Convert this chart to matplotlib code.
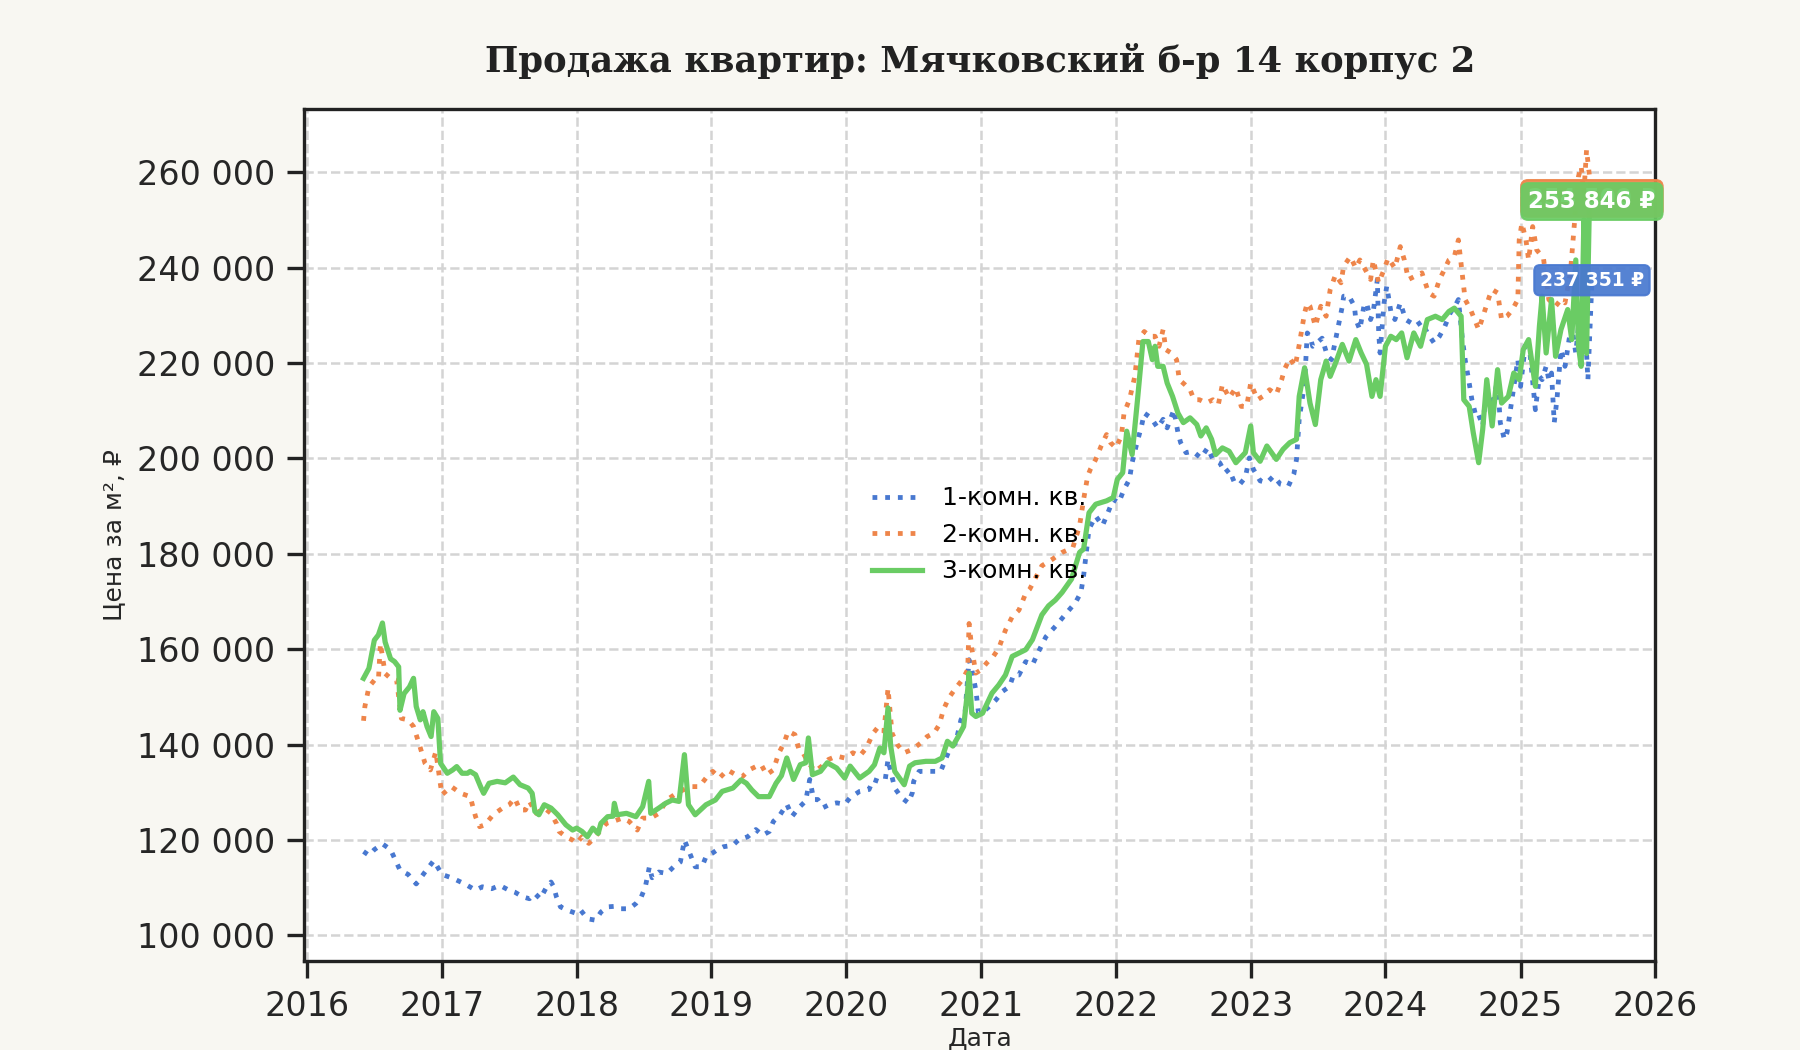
import numpy as np
import pandas as pd
import matplotlib
matplotlib.use("Agg")
import matplotlib.pyplot as plt
import matplotlib.dates as mdates
from matplotlib.ticker import FuncFormatter, MultipleLocator

# ---------------- data (decimal years, prices in thousand RUB per m2) ----------------
t1 = [2016.42, 2016.46, 2016.50, 2016.56, 2016.62, 2016.69, 2016.75, 2016.81, 2016.875, 2016.94,
      2017.00, 2017.08, 2017.17, 2017.25, 2017.30, 2017.37, 2017.43, 2017.49, 2017.54, 2017.60,
      2017.65, 2017.69, 2017.73, 2017.77, 2017.81, 2017.83, 2017.85, 2017.88, 2017.93, 2018.00,
      2018.03, 2018.08, 2018.14, 2018.18, 2018.23, 2018.28, 2018.33, 2018.39, 2018.44, 2018.48,
      2018.51, 2018.54, 2018.56, 2018.61, 2018.67, 2018.72, 2018.77, 2018.80, 2018.83, 2018.88,
      2018.93, 2018.96, 2019.01, 2019.04, 2019.09, 2019.16, 2019.20, 2019.27, 2019.33, 2019.38,
      2019.43, 2019.46, 2019.51, 2019.56, 2019.60, 2019.65, 2019.70, 2019.73, 2019.76, 2019.79,
      2019.83, 2019.88, 2019.93, 2019.99, 2020.03, 2020.10, 2020.17, 2020.20, 2020.24, 2020.29,
      2020.31, 2020.33, 2020.36, 2020.41, 2020.46, 2020.49, 2020.50, 2020.54, 2020.59, 2020.65,
      2020.70, 2020.74, 2020.77, 2020.81, 2020.85, 2020.88, 2020.91, 2020.93, 2020.96, 2020.98,
      2021.02, 2021.06, 2021.11, 2021.16, 2021.21, 2021.24, 2021.28, 2021.33, 2021.38, 2021.42,
      2021.48, 2021.56, 2021.63, 2021.70, 2021.74, 2021.76, 2021.78, 2021.80, 2021.85, 2021.90,
      2021.94, 2021.98, 2022.02, 2022.06, 2022.10, 2022.12, 2022.15, 2022.19, 2022.21, 2022.26,
      2022.31, 2022.35, 2022.38, 2022.43, 2022.46, 2022.48, 2022.52, 2022.57, 2022.63, 2022.68,
      2022.72, 2022.77, 2022.81, 2022.84, 2022.88, 2022.92, 2022.96, 2022.99, 2023.02, 2023.07,
      2023.12, 2023.17, 2023.22, 2023.28, 2023.32, 2023.34, 2023.36, 2023.40, 2023.42, 2023.44,
      2023.46, 2023.49, 2023.53, 2023.57, 2023.60, 2023.63, 2023.65, 2023.68, 2023.69, 2023.73,
      2023.77, 2023.78, 2023.81, 2023.84, 2023.86, 2023.89, 2023.91, 2023.94, 2023.95, 2023.96,
      2023.99, 2024.01, 2024.04, 2024.07, 2024.11, 2024.15, 2024.19, 2024.22, 2024.27, 2024.31,
      2024.36, 2024.40, 2024.44, 2024.48, 2024.52, 2024.54, 2024.57, 2024.59, 2024.62, 2024.64,
      2024.67, 2024.69, 2024.72, 2024.75, 2024.79, 2024.83, 2024.85, 2024.88, 2024.90, 2024.94,
      2024.98, 2025.00, 2025.04, 2025.07, 2025.11, 2025.14, 2025.16, 2025.19, 2025.21, 2025.23,
      2025.25, 2025.27, 2025.30, 2025.33, 2025.36, 2025.38, 2025.41, 2025.43, 2025.46, 2025.48,
      2025.50, 2025.53]
v1 = [117.6, 116.8, 118.0, 119.2, 118.0, 113.7, 112.8, 110.8, 113.3, 115.7,
      112.8, 112.0, 110.8, 109.5, 110.2, 109.8, 110.5, 109.6, 109.1, 108.1,
      107.7, 108.8, 107.7, 109.8, 111.2, 110.2, 108.1, 106.0, 105.3, 104.6,
      105.3, 103.5, 103.2, 104.9, 106.0, 106.1, 105.6, 105.6, 106.7, 108.1,
      110.2, 114.4, 112.1, 113.3, 113.0, 114.4, 115.4, 120.0, 117.9, 114.4,
      114.4, 116.5, 117.3, 117.9, 118.6, 118.9, 120.0, 120.7, 122.2, 121.0,
      121.8, 123.9, 125.3, 127.5, 125.0, 126.8, 128.2, 132.7, 128.5, 128.5,
      126.8, 127.5, 127.8, 127.5, 128.9, 130.2, 130.6, 132.7, 132.3, 132.7,
      136.9, 134.4, 130.9, 128.9, 127.8, 129.9, 132.3, 134.4, 134.4, 134.4,
      134.4, 137.2, 139.3, 140.3, 145.2, 146.6, 157.8, 155.7, 151.5, 146.6,
      147.0, 148.0, 149.4, 151.2, 152.2, 154.6, 154.6, 157.4, 156.7, 159.2,
      162.6, 165.1, 167.5, 169.8, 171.9, 175.4, 180.3, 185.2, 187.9, 185.9,
      188.6, 191.4, 190.7, 193.5, 195.6, 199.1, 202.6, 206.8, 209.5, 208.5,
      206.4, 208.2, 206.4, 210.2, 205.4, 203.3, 201.2, 201.5, 200.1, 202.2,
      199.8, 199.1, 197.0, 197.7, 194.9, 194.6, 196.0, 200.1, 197.7, 195.3,
      194.9, 196.3, 194.6, 194.2, 196.7, 199.8, 208.2, 215.8, 226.3, 225.6,
      223.5, 224.2, 225.2, 221.4, 220.7, 224.9, 227.7, 231.9, 234.0, 234.0,
      231.9, 229.1, 227.0, 231.9, 232.6, 229.1, 230.8, 237.5, 226.3, 222.1,
      232.6, 236.1, 230.8, 229.1, 232.6, 229.1, 228.4, 227.7, 228.7, 226.3,
      224.2, 225.6, 227.7, 230.5, 232.2, 233.3, 224.9, 220.7, 215.8, 212.3,
      208.8, 209.2, 206.8, 215.1, 210.9, 216.5, 207.5, 204.0, 205.4, 213.0,
      220.7, 215.1, 224.9, 222.1, 210.2, 217.2, 216.5, 219.3, 216.5, 217.9,
      207.5, 212.3, 222.8, 219.3, 224.9, 227.7, 222.1, 227.7, 231.9, 227.7,
      216.5, 237.351]

t2 = [2016.42, 2016.43, 2016.46, 2016.50, 2016.53, 2016.545, 2016.58, 2016.62, 2016.665, 2016.70,
      2016.75, 2016.79, 2016.83, 2016.875, 2016.915, 2016.955, 2017.00, 2017.07, 2017.14, 2017.21,
      2017.25, 2017.28, 2017.32, 2017.38, 2017.45, 2017.50, 2017.54, 2017.58, 2017.62, 2017.65,
      2017.70, 2017.76, 2017.81, 2017.85, 2017.87, 2017.92, 2017.97, 2018.00, 2018.04, 2018.09,
      2018.13, 2018.17, 2018.22, 2018.27, 2018.34, 2018.39, 2018.45, 2018.49, 2018.55, 2018.61,
      2018.67, 2018.74, 2018.79, 2018.85, 2018.91, 2018.96, 2019.01, 2019.06, 2019.12, 2019.18,
      2019.23, 2019.28, 2019.33, 2019.37, 2019.41, 2019.46, 2019.50, 2019.54, 2019.57, 2019.62,
      2019.65, 2019.68, 2019.72, 2019.77, 2019.82, 2019.87, 2019.93, 2019.99, 2020.05, 2020.10,
      2020.15, 2020.20, 2020.24, 2020.28, 2020.31, 2020.34, 2020.38, 2020.43, 2020.49, 2020.55,
      2020.60, 2020.65, 2020.69, 2020.72, 2020.76, 2020.81, 2020.86, 2020.90, 2020.91, 2020.93,
      2020.96, 2021.00, 2021.04, 2021.09, 2021.13, 2021.18, 2021.23, 2021.28, 2021.33, 2021.36,
      2021.45, 2021.53, 2021.60, 2021.68, 2021.73, 2021.76, 2021.79, 2021.81, 2021.85, 2021.89,
      2021.93, 2021.96, 2022.00, 2022.04, 2022.06, 2022.10, 2022.14, 2022.17, 2022.21, 2022.25,
      2022.29, 2022.32, 2022.35, 2022.37, 2022.41, 2022.45, 2022.47, 2022.51, 2022.55, 2022.58,
      2022.62, 2022.67, 2022.72, 2022.76, 2022.79, 2022.84, 2022.89, 2022.93, 2022.97, 2023.00,
      2023.05, 2023.09, 2023.14, 2023.19, 2023.23, 2023.25, 2023.29, 2023.33, 2023.36, 2023.40,
      2023.42, 2023.44, 2023.48, 2023.52, 2023.56, 2023.59, 2023.63, 2023.67, 2023.69, 2023.74,
      2023.78, 2023.81, 2023.85, 2023.89, 2023.91, 2023.95, 2023.99, 2024.02, 2024.07, 2024.11,
      2024.14, 2024.17, 2024.22, 2024.27, 2024.32, 2024.36, 2024.40, 2024.43, 2024.47, 2024.51,
      2024.54, 2024.57, 2024.59, 2024.63, 2024.67, 2024.69, 2024.73, 2024.77, 2024.79, 2024.83,
      2024.86, 2024.90, 2024.94, 2024.98, 2024.99, 2025.01, 2025.04, 2025.06, 2025.09, 2025.12,
      2025.17, 2025.21, 2025.26, 2025.30, 2025.33, 2025.37, 2025.40, 2025.43, 2025.45, 2025.47,
      2025.49, 2025.53]
v2 = [145.0, 148.0, 152.1, 153.5, 153.5, 161.2, 154.9, 153.9, 153.5, 145.5,
      145.2, 143.8, 140.3, 136.1, 134.7, 138.5, 129.5, 131.2, 129.8, 129.1,
      124.9, 122.8, 123.2, 125.3, 126.7, 127.4, 128.8, 126.3, 126.3, 128.1,
      125.6, 126.7, 125.6, 123.5, 121.8, 120.7, 120.0, 119.3, 120.7, 119.3,
      120.4, 121.8, 123.5, 123.9, 124.6, 123.9, 122.1, 124.6, 124.6, 125.6,
      128.4, 129.8, 130.5, 131.2, 131.2, 133.0, 134.4, 133.0, 134.7, 133.7,
      133.3, 134.7, 135.4, 135.8, 133.7, 134.7, 138.2, 140.4, 142.8, 142.1,
      139.0, 138.3, 136.2, 134.4, 135.5, 136.9, 137.6, 137.2, 138.3, 137.6,
      139.3, 142.4, 143.8, 142.8, 151.8, 142.4, 140.0, 138.3, 139.0, 140.3,
      141.7, 142.4, 144.2, 147.3, 149.8, 151.8, 153.6, 155.7, 165.4, 160.2,
      155.0, 155.7, 157.1, 158.5, 160.2, 164.0, 166.8, 168.2, 171.7, 172.6,
      177.5, 178.9, 180.3, 181.3, 185.9, 191.4, 196.3, 197.7, 199.8, 202.6,
      205.0, 203.3, 202.2, 204.7, 209.5, 212.3, 217.2, 224.9, 226.6, 225.6,
      225.6, 223.5, 227.0, 222.8, 222.1, 220.7, 216.5, 215.5, 214.4, 212.3,
      212.3, 211.6, 212.3, 211.3, 215.5, 212.7, 214.8, 210.9, 210.9, 215.8,
      212.3, 213.0, 214.4, 213.4, 216.5, 218.6, 221.0, 219.3, 223.8, 230.5,
      232.6, 231.9, 227.7, 231.9, 229.8, 235.4, 238.5, 236.8, 240.3, 242.3,
      239.9, 241.6, 239.6, 237.5, 241.6, 236.8, 239.6, 242.0, 239.9, 244.4,
      241.6, 237.5, 238.2, 238.9, 234.7, 234.0, 237.5, 239.2, 241.6, 242.3,
      245.8, 238.2, 233.3, 231.2, 228.4, 227.0, 230.5, 234.0, 235.4, 234.7,
      229.1, 229.8, 231.2, 233.3, 245.8, 249.3, 245.8, 241.6, 248.6, 243.7,
      242.0, 233.3, 231.9, 233.3, 232.6, 238.9, 249.3, 259.1, 261.2, 255.6,
      264.7, 254.5]

t3 = [2016.42, 2016.46, 2016.50, 2016.53, 2016.56, 2016.58, 2016.62, 2016.65, 2016.68, 2016.69,
      2016.72, 2016.76, 2016.79, 2016.81, 2016.84, 2016.86, 2016.89, 2016.92, 2016.94, 2016.97,
      2016.99, 2017.04, 2017.08, 2017.11, 2017.15, 2017.19, 2017.21, 2017.25, 2017.29, 2017.31,
      2017.35, 2017.41, 2017.47, 2017.53, 2017.58, 2017.64, 2017.67, 2017.69, 2017.72, 2017.76,
      2017.81, 2017.86, 2017.92, 2017.97, 2018.00, 2018.04, 2018.08, 2018.12, 2018.16, 2018.18,
      2018.23, 2018.27, 2018.28, 2018.30, 2018.37, 2018.44, 2018.49, 2018.535, 2018.55, 2018.61,
      2018.66, 2018.71, 2018.76, 2018.80, 2018.83, 2018.88, 2018.96, 2019.03, 2019.08, 2019.16,
      2019.22, 2019.26, 2019.30, 2019.35, 2019.43, 2019.48, 2019.52, 2019.56, 2019.61, 2019.66,
      2019.70, 2019.72, 2019.75, 2019.81, 2019.86, 2019.93, 2019.99, 2020.03, 2020.10, 2020.17,
      2020.21, 2020.25, 2020.28, 2020.31, 2020.33, 2020.36, 2020.43, 2020.47, 2020.51, 2020.59,
      2020.66, 2020.71, 2020.75, 2020.79, 2020.83, 2020.87, 2020.90, 2020.91, 2020.93, 2020.96,
      2021.01, 2021.08, 2021.13, 2021.18, 2021.23, 2021.28, 2021.33, 2021.38, 2021.45, 2021.50,
      2021.55, 2021.60, 2021.67, 2021.73, 2021.76, 2021.80, 2021.85, 2021.93, 2021.98, 2022.01,
      2022.05, 2022.08, 2022.12, 2022.16, 2022.20, 2022.24, 2022.27, 2022.29, 2022.31, 2022.35,
      2022.38, 2022.42, 2022.46, 2022.50, 2022.55, 2022.60, 2022.63, 2022.67, 2022.71, 2022.74,
      2022.79, 2022.84, 2022.89, 2022.96, 2023.00, 2023.02, 2023.07, 2023.12, 2023.19, 2023.24,
      2023.29, 2023.34, 2023.36, 2023.40, 2023.44, 2023.48, 2023.52, 2023.56, 2023.59, 2023.63,
      2023.68, 2023.73, 2023.78, 2023.82, 2023.86, 2023.90, 2023.93, 2023.96, 2024.00, 2024.04,
      2024.08, 2024.12, 2024.16, 2024.21, 2024.26, 2024.31, 2024.37, 2024.42, 2024.47, 2024.51,
      2024.56, 2024.58, 2024.62, 2024.65, 2024.69, 2024.72, 2024.75, 2024.79, 2024.83, 2024.86,
      2024.91, 2024.95, 2024.99, 2025.02, 2025.06, 2025.11, 2025.14, 2025.16, 2025.19, 2025.23,
      2025.26, 2025.30, 2025.35, 2025.38, 2025.41, 2025.43, 2025.45, 2025.47, 2025.49, 2025.51,
      2025.53]
v3 = [153.9, 156.0, 161.9, 163.0, 165.5, 161.5, 158.0, 157.4, 156.3, 147.2,
      150.7, 152.1, 153.9, 148.0, 145.2, 146.9, 143.8, 141.7, 146.9, 145.5,
      136.1, 134.0, 134.7, 135.4, 134.0, 134.0, 134.4, 133.7, 131.0, 129.8,
      131.9, 132.3, 132.0, 133.2, 131.6, 130.9, 129.8, 126.0, 125.3, 127.4,
      126.7, 125.3, 123.2, 122.1, 122.5, 121.8, 120.7, 122.5, 121.4, 123.5,
      124.9, 125.0, 127.7, 125.3, 125.6, 124.9, 127.0, 132.3, 125.6, 126.7,
      127.7, 128.4, 128.1, 137.9, 127.4, 125.3, 127.4, 128.4, 130.2, 130.9,
      132.6, 131.9, 130.5, 129.1, 129.1, 131.9, 133.5, 137.2, 132.7, 135.8,
      136.2, 141.4, 133.7, 134.4, 136.2, 135.1, 133.0, 135.5, 133.0, 134.4,
      135.8, 139.3, 138.3, 147.7, 139.7, 134.4, 131.6, 135.5, 136.2, 136.5,
      136.5, 137.2, 140.7, 139.7, 141.7, 143.8, 151.5, 155.0, 146.6, 145.9,
      146.6, 150.8, 152.5, 154.6, 158.5, 159.2, 159.9, 162.0, 167.2, 169.1,
      170.3, 171.9, 174.7, 180.3, 181.0, 188.6, 190.4, 191.1, 191.8, 195.6,
      197.0, 205.7, 200.8, 212.3, 224.5, 224.5, 220.7, 223.5, 219.3, 219.3,
      215.8, 213.0, 209.5, 207.5, 208.5, 207.1, 204.7, 206.4, 204.0, 200.8,
      202.2, 201.5, 199.1, 201.2, 206.8, 201.2, 199.4, 202.6, 199.8, 201.9,
      203.3, 204.0, 213.0, 219.0, 211.6, 207.1, 216.5, 220.4, 217.2, 220.0,
      223.9, 220.4, 224.9, 222.1, 219.7, 213.0, 216.5, 213.0, 223.5, 225.6,
      224.9, 226.3, 221.1, 226.3, 223.5, 229.1, 229.8, 229.1, 230.8, 231.5,
      229.8, 212.3, 210.9, 205.4, 199.1, 206.1, 216.5, 206.8, 218.6, 211.6,
      213.0, 217.9, 216.5, 222.8, 224.9, 215.1, 227.7, 234.0, 222.1, 233.3,
      221.4, 227.0, 231.2, 224.9, 241.6, 223.5, 219.3, 250.0, 222.0, 252.0,
      253.846]

labels = ["1-комн. кв.", "2-комн. кв.", "3-комн. кв."]
colors = ["#4878d0", "#ee854a", "#6acc64"]
styles = [":", ":", "-"]
title = "Продажа квартир: Мячковский б-р 14 корпус 2"


def to_dates(ts):
    out = []
    for t in ts:
        y = int(t)
        start = pd.Timestamp(year=y, month=1, day=1)
        days = (pd.Timestamp(year=y + 1, month=1, day=1) - start).days
        out.append(start + pd.Timedelta(days=(t - y) * days))
    return out


series = [(to_dates(t1), np.array(v1) * 1000),
          (to_dates(t2), np.array(v2) * 1000),
          (to_dates(t3), np.array(v3) * 1000)]

plt.rcParams['font.family'] = ['DejaVu Sans']
fig = plt.figure(figsize=(12, 7), dpi=150, facecolor="#f8f7f2")
ax = fig.add_axes([0.169, 0.085, 0.7506, 0.811])
ax.set_facecolor("white")

widths = [2.3, 2.3, 2.5]
for (d, v), lab, c, ls, lw in zip(series, labels, colors, styles, widths):
    ax.plot(d, v, linestyle=ls, color=c, linewidth=lw, label=lab, zorder=3)

ax.set_xlim(pd.Timestamp("2015-12-25"), pd.Timestamp("2026-01-01"))
ax.set_ylim(94700, 273200)
ax.yaxis.set_major_locator(MultipleLocator(20000))
ax.yaxis.set_major_formatter(FuncFormatter(lambda x, p: f"{x:,.0f}".replace(",", " ")))
ax.xaxis.set_major_locator(mdates.YearLocator())
ax.xaxis.set_major_formatter(mdates.DateFormatter("%Y"))

ax.grid(True, linestyle="--", color="#d4d4d4", linewidth=1.2, zorder=0)
ax.set_axisbelow(True)
for s in ax.spines.values():
    s.set_linewidth(1.6)
    s.set_color("#222222")
ax.tick_params(axis="both", which="major", length=8, width=1.6, color="#222222",
               labelsize=16, labelcolor="#262626", pad=6)

ax.set_title(title, fontsize=17, fontweight="bold", family="DejaVu Serif",
             color="#222222", pad=18)
ax.set_xlabel("Дата", fontsize=12, color="#262626", labelpad=2)
ax.set_ylabel("Цена за м², ₽", fontsize=12, color="#262626", labelpad=5)

leg = ax.legend(loc="center", frameon=False, fontsize=12, handlelength=2.0)

# last-value badges (orange first, green on top)
order = [(1, 11), (2, 11), (0, 9)]
for idx, fs in order:
    d, v = series[idx]
    txt = f"{v[-1]:,.0f}".replace(",", " ") + " ₽"
    ax.annotate(txt, xy=(d[-1], v[-1]), ha="center", va="center", fontsize=fs,
                fontweight="bold", color="white", zorder=5 + idx if idx else 8,
                annotation_clip=False,
                bbox=dict(boxstyle="round,pad=0.3", fc=colors[idx], ec=colors[idx],
                          alpha=0.92))

fig.savefig("out.png", dpi=150, facecolor=fig.get_facecolor())
